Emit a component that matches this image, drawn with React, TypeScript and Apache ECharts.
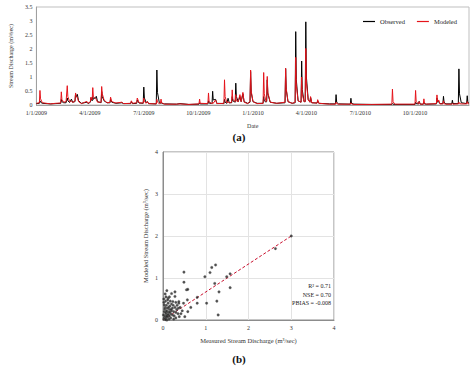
import React, { useEffect, useRef } from "react";
import * as echarts from "echarts";

// ---- Time series (a) ----
const dates = [
  "2009-01-01","2009-01-06","2009-01-07","2009-01-08","2009-01-11","2009-01-25","2009-02-02","2009-02-11","2009-02-12","2009-02-13",
  "2009-02-16","2009-02-20","2009-02-22","2009-02-23","2009-02-26","2009-03-01","2009-03-03","2009-03-07","2009-03-08","2009-03-09",
  "2009-03-11","2009-03-13","2009-03-18","2009-03-27","2009-03-29","2009-04-02","2009-04-03","2009-04-05","2009-04-06","2009-04-07",
  "2009-04-12","2009-04-14","2009-04-20","2009-04-21","2009-04-22","2009-04-25","2009-04-30","2009-05-05","2009-05-06","2009-05-08",
  "2009-05-15","2009-05-25","2009-05-28","2009-06-09","2009-06-10","2009-06-12","2009-06-19","2009-06-20","2009-06-23","2009-06-30",
  "2009-07-01","2009-07-02","2009-07-05","2009-07-07","2009-07-09","2009-07-22","2009-07-23","2009-07-24","2009-07-27","2009-07-29",
  "2009-07-30","2009-07-31","2009-08-05","2009-08-25","2009-08-31","2009-09-15","2009-10-02","2009-10-03","2009-10-04","2009-10-17",
  "2009-10-18","2009-10-19","2009-10-24","2009-10-25","2009-10-26","2009-10-30","2009-11-01","2009-11-13","2009-11-14","2009-11-15",
  "2009-11-18","2009-11-20","2009-11-22","2009-11-26","2009-11-27","2009-11-28","2009-12-02","2009-12-03","2009-12-04","2009-12-07",
  "2009-12-10","2009-12-12","2009-12-15","2009-12-17","2009-12-23","2009-12-27","2009-12-28","2009-12-29","2010-01-01","2010-01-08",
  "2010-01-18","2010-01-19","2010-01-20","2010-01-23","2010-01-24","2010-01-25","2010-01-26","2010-01-30","2010-02-10","2010-02-24",
  "2010-02-25","2010-02-26","2010-03-01","2010-03-08","2010-03-13","2010-03-14","2010-03-15","2010-03-18","2010-03-23","2010-03-24",
  "2010-03-25","2010-03-28","2010-03-30","2010-03-31","2010-04-01","2010-04-04","2010-04-07","2010-04-08","2010-04-10","2010-04-19",
  "2010-04-20","2010-04-22","2010-05-10","2010-05-20","2010-05-21","2010-05-22","2010-05-25","2010-06-14","2010-06-15","2010-06-16",
  "2010-06-20","2010-07-20","2010-08-23","2010-08-24","2010-08-25","2010-08-28","2010-10-01","2010-10-02","2010-10-03","2010-10-07",
  "2010-10-08","2010-10-10","2010-10-15","2010-10-16","2010-10-17","2010-10-20","2010-11-06","2010-11-07","2010-11-08","2010-11-10",
  "2010-11-12","2010-11-17","2010-11-18","2010-11-19","2010-11-22","2010-12-02","2010-12-03","2010-12-04","2010-12-13","2010-12-14",
  "2010-12-15","2010-12-18","2010-12-27","2010-12-28","2010-12-29","2010-12-31"
];
const observed = [
  0.05,0.06,0.15,0.10,0.06,0.04,0.05,0.06,0.20,0.12,
  0.08,0.08,0.25,0.15,0.09,0.21,0.10,0.12,0.40,0.28,
  0.38,0.15,0.06,0.10,0.05,0.10,0.26,0.15,0.30,0.20,
  0.31,0.12,0.08,0.48,0.30,0.15,0.08,0.08,0.20,0.10,
  0.06,0.08,0.05,0.05,0.12,0.05,0.06,0.18,0.07,0.06,
  0.64,0.25,0.08,0.12,0.05,0.04,1.25,0.45,0.10,0.06,
  0.10,0.06,0.04,0.03,0.05,0.02,0.03,0.08,0.04,0.04,
  0.15,0.07,0.05,0.49,0.18,0.20,0.06,0.05,0.20,0.10,
  0.06,0.24,0.08,0.08,0.30,0.15,0.10,0.78,0.30,0.12,
  0.30,0.12,0.40,0.12,0.06,0.10,1.20,0.45,0.12,0.06,
  0.06,0.30,0.15,0.10,0.12,0.90,0.40,0.10,0.06,0.08,
  1.30,0.55,0.12,0.06,0.08,2.62,0.90,0.15,0.10,1.57,
  0.55,0.12,0.12,2.97,1.00,0.20,0.10,0.28,0.08,0.07,
  0.15,0.06,0.04,0.04,0.37,0.10,0.04,0.03,0.24,0.06,
  0.03,0.02,0.02,0.05,0.03,0.02,0.02,0.10,0.05,0.04,
  0.13,0.03,0.03,0.08,0.04,0.03,0.04,0.25,0.10,0.12,
  0.05,0.05,0.31,0.10,0.04,0.04,0.17,0.05,0.05,1.29,
  0.40,0.08,0.05,0.33,0.10,0.06
];
const modeled = [
  0.06,0.08,0.52,0.22,0.08,0.04,0.06,0.07,0.47,0.20,
  0.10,0.12,0.69,0.30,0.12,0.15,0.09,0.14,0.43,0.30,
  0.28,0.12,0.05,0.13,0.06,0.12,0.28,0.18,0.62,0.30,
  0.20,0.10,0.10,0.66,0.40,0.18,0.08,0.09,0.28,0.12,
  0.07,0.10,0.05,0.06,0.15,0.06,0.08,0.25,0.08,0.07,
  0.25,0.12,0.06,0.13,0.05,0.04,0.20,0.10,0.05,0.06,
  0.21,0.08,0.03,0.03,0.04,0.02,0.04,0.21,0.06,0.05,
  0.43,0.12,0.04,0.10,0.06,0.18,0.05,0.06,0.90,0.30,
  0.08,0.12,0.07,0.10,0.54,0.20,0.12,0.37,0.15,0.12,
  0.37,0.12,0.45,0.10,0.05,0.12,1.25,0.50,0.12,0.05,
  0.06,1.16,0.40,0.12,0.15,1.02,0.45,0.10,0.06,0.10,
  1.31,0.60,0.12,0.06,0.10,1.70,0.70,0.15,0.10,1.00,
  0.40,0.12,0.12,2.02,0.80,0.18,0.10,0.30,0.08,0.07,
  0.19,0.06,0.03,0.03,0.10,0.05,0.03,0.03,0.08,0.04,
  0.02,0.02,0.03,0.57,0.12,0.03,0.03,0.52,0.12,0.04,
  0.12,0.03,0.03,0.22,0.06,0.03,0.05,0.36,0.12,0.18,
  0.04,0.04,0.15,0.05,0.03,0.03,0.06,0.03,0.04,0.10,
  0.05,0.04,0.04,0.12,0.05,0.04
];
const quarterLabels = [
  "2009-01-01", "2009-04-01", "2009-07-01", "2009-10-01",
  "2010-01-01", "2010-04-01", "2010-07-01", "2010-10-01"
];
const axisStart = "2009-01-01";
const axisEnd = "2010-12-31";

// ---- Scatter (b) ----
const measuredQ = [
  3.0, 2.63, 0.49, 0.49, 0.55, 0.58, 0.98, 1.1, 1.14, 1.23, 1.21, 1.57, 1.49, 1.57, 1.31, 1.02, 0.8, 0.8, 1.26, 1.29,
  0.65, 0.58, 0.57, 0.37, 0.37, 0.28, 0.09, 0.05, 0.02, 0.12, 0.2, 0.23, 0.28, 0.36, 0.48, 0.51, 0.38, 0.45, 0.42, 0.3,
  0.25, 0.02, 0.03, 0.05, 0.04, 0.06, 0.08, 0.1, 0.07, 0.12, 0.15, 0.1, 0.13, 0.18, 0.2, 0.15, 0.22, 0.25, 0.28, 0.3,
  0.32, 0.05, 0.08, 0.12, 0.16, 0.2, 0.03, 0.02, 0.06, 0.1, 0.18, 0.22, 0.26, 0.35, 0.33, 0.14, 0.09, 0.01, 0.04, 0.11,
  0.17, 0.24, 0.3, 0.4, 0.06, 0.08, 0.13, 0.19, 0.16, 0.12, 0.09, 0.06, 0.03, 0.15, 0.07
];
const modeledQ = [
  2.0, 1.7, 1.14, 0.9, 0.72, 0.73, 1.03, 1.13, 1.25, 1.31, 0.87, 1.1, 1.03, 0.77, 0.67, 0.4, 0.4, 0.54, 0.45, 0.12,
  0.3, 0.2, 0.48, 0.4, 0.44, 0.67, 0.7, 0.62, 0.5, 0.52, 0.63, 0.44, 0.56, 0.28, 0.4, 0.08, 0.08, 0.22, 0.15, 0.05,
  0.02, 0.02, 0.05, 0.03, 0.1, 0.08, 0.05, 0.12, 0.15, 0.08, 0.1, 0.2, 0.18, 0.15, 0.22, 0.25, 0.12, 0.2, 0.3, 0.18,
  0.25, 0.3, 0.35, 0.4, 0.33, 0.38, 0.2, 0.42, 0.45, 0.28, 0.05, 0.28, 0.1, 0.15, 0.35, 0.02, 0.0, 0.12, 0.26, 0.48,
  0.45, 0.35, 0.42, 0.3, 0.18, 0.22, 0.3, 0.25, 0.19, 0.13, 0.09, 0.01, 0.36, 0.55, 0.55
];
const fitLine = [[0, 0], [3, 2]];
const statsLines = ["R² = 0.71", "NSE = 0.70", "PBIAS = -0.008"];

const FONT = "Liberation Serif";

function toTs(s: string): number {
  const [y, m, d] = s.split("-").map(Number);
  return new Date(y, m - 1, d).getTime();
}

export default function App() {
  const ref = useRef<HTMLDivElement>(null);
  useEffect(() => {
    if (!ref.current) return;
    const chart = echarts.init(ref.current, null, { renderer: "svg" });
    const labelTs = quarterLabels.map(toTs);
    const option: any = {
      animation: false,
      textStyle: { fontFamily: FONT },
      legend: {
        data: [
          { name: "Observed", icon: "rect" },
          { name: "Modeled", icon: "rect" },
        ],
        right: 12,
        top: 13,
        itemWidth: 12,
        itemHeight: 1.2,
        itemGap: 12,
        textStyle: { fontSize: 6.5, color: "#222", fontFamily: FONT },
      },
      grid: [
        { left: 26, top: 7, width: 443, height: 98, show: true, borderColor: "#bfbfbf", borderWidth: 1 },
        { left: 163, top: 152, width: 171, height: 168, show: true, borderColor: "#8c8c8c", borderWidth: 1 },
      ],
      xAxis: [
        {
          type: "value",
          gridIndex: 0,
          min: toTs(axisStart),
          max: toTs(axisEnd),
          axisLine: { lineStyle: { color: "#a0a0a0" } },
          axisTick: { show: false },
          splitLine: { show: false },
          axisLabel: {
            customValues: labelTs,
            fontSize: 6,
            color: "#333",
            margin: 5,
            fontFamily: FONT,
            formatter: (v: number) => {
              const d = new Date(v);
              return `${d.getMonth() + 1}/${d.getDate()}/${d.getFullYear()}`;
            },
          },
          name: "Date",
          nameLocation: "middle",
          nameGap: 18,
          nameTextStyle: { fontSize: 6, color: "#333", fontFamily: FONT },
        },
        {
          type: "value",
          gridIndex: 1,
          min: 0,
          max: 4,
          interval: 1,
          axisLine: { lineStyle: { color: "#8c8c8c" } },
          axisTick: { show: false },
          splitLine: { show: true, lineStyle: { color: "#e3e3e3" } },
          axisLabel: { fontSize: 6, color: "#333", margin: 5, fontFamily: FONT },
          name: "Measured Stream Discharge (m³/sec)",
          nameLocation: "middle",
          nameGap: 17,
          nameTextStyle: { fontSize: 6.5, color: "#333", fontFamily: FONT },
        },
      ],
      yAxis: [
        {
          type: "value",
          gridIndex: 0,
          min: 0,
          max: 3.5,
          interval: 0.5,
          axisLine: { show: true, lineStyle: { color: "#a0a0a0" } },
          axisTick: { show: false },
          splitLine: { show: false },
          axisLabel: { fontSize: 6, color: "#333", margin: 4, fontFamily: FONT },
          name: "Stream Discharge (m³/sec)",
          nameLocation: "middle",
          nameGap: 16,
          nameTextStyle: { fontSize: 6, color: "#333", fontFamily: FONT },
        },
        {
          type: "value",
          gridIndex: 1,
          min: 0,
          max: 4,
          interval: 1,
          axisLine: { show: true, lineStyle: { color: "#8c8c8c" } },
          axisTick: { show: false },
          splitLine: { show: true, lineStyle: { color: "#e3e3e3" } },
          axisLabel: { fontSize: 6, color: "#333", margin: 5, fontFamily: FONT },
          name: "Modeled Stream Discharge (m³/sec)",
          nameLocation: "middle",
          nameGap: 14,
          nameTextStyle: { fontSize: 6.5, color: "#333", fontFamily: FONT },
        },
      ],
      series: [
        {
          name: "Observed",
          type: "line",
          xAxisIndex: 0,
          yAxisIndex: 0,
          showSymbol: false,
          color: "#000",
          lineStyle: { color: "#000", width: 1 },
          data: dates.map((d, i) => [toTs(d), observed[i]]),
        },
        {
          name: "Modeled",
          type: "line",
          xAxisIndex: 0,
          yAxisIndex: 0,
          showSymbol: false,
          color: "#e5141b",
          lineStyle: { color: "#e5141b", width: 1 },
          data: dates.map((d, i) => [toTs(d), modeled[i]]),
        },
        {
          name: "fit",
          type: "line",
          xAxisIndex: 1,
          yAxisIndex: 1,
          symbol: "none",
          lineStyle: { color: "#c8102e", width: 1, type: [3, 2] },
          data: fitLine,
          z: 1,
        },
        {
          name: "points",
          type: "scatter",
          xAxisIndex: 1,
          yAxisIndex: 1,
          symbolSize: 2.6,
          itemStyle: { color: "#222", borderColor: "#777", borderWidth: 0.4 },
          data: measuredQ.map((x, i) => [x, modeledQ[i]]),
          z: 3,
        },
      ],
      graphic: [
        {
          type: "text",
          x: 239,
          y: 137,
          style: { text: "(a)", fontSize: 11, fontWeight: "bold", fontFamily: FONT, fill: "#111", align: "center", verticalAlign: "middle" },
        },
        {
          type: "text",
          x: 239,
          y: 359,
          style: { text: "(b)", fontSize: 11, fontWeight: "bold", fontFamily: FONT, fill: "#111", align: "center", verticalAlign: "middle" },
        },
        ...statsLines.map((t, i) => ({
          type: "text",
          x: 331,
          y: 286 + i * 8.5,
          style: { text: t, fontSize: 6, fontFamily: FONT, fill: "#222", align: "right", verticalAlign: "middle" },
        })),
      ],
    };
    chart.setOption(option);
    return () => chart.dispose();
  }, []);
  return (
    <div
      ref={ref}
      style={{ position: "fixed", left: 0, top: 0, width: 474, height: 368, background: "#fff" }}
    />
  );
}
